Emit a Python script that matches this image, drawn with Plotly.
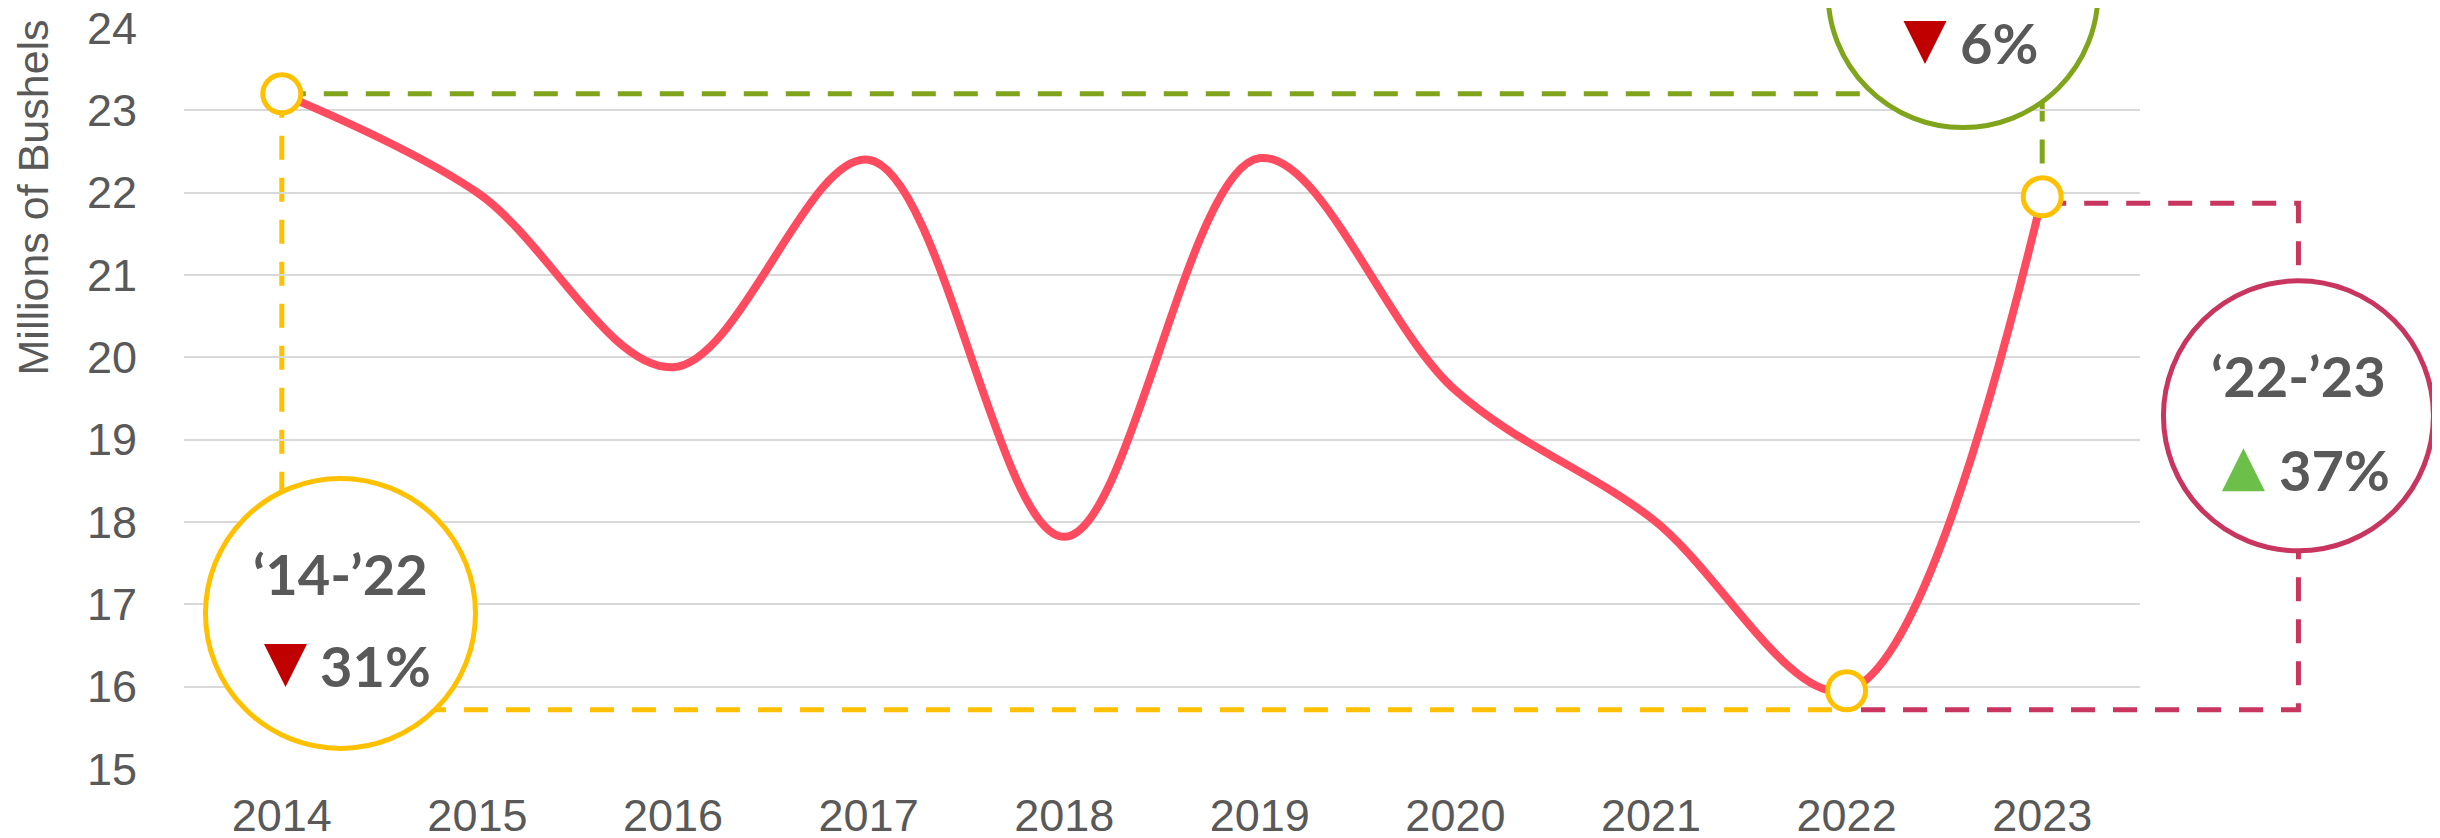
import plotly.graph_objects as go

# data
years = [2014, 2015, 2016, 2017, 2018, 2019, 2020, 2021, 2022, 2023]
bushels = [23.2, 22.0, 19.88, 22.4, 17.82, 22.42, 19.6, 18.05, 15.95, 21.95]
y_ticks = [15, 16, 17, 18, 19, 20, 21, 22, 23, 24]
marked_years = [2014, 2022, 2023]

# bracket levels / callouts
bracket_low = 15.72
bracket_mid = 21.87
bracket_right = 2024.31

X_RANGE = [2013.5, 2023.5]
Y_RANGE = [15, 24]

RED = 'rgb(255, 75, 95)'
YELLOW = '#FFC000'
GREEN = '#80A41C'
PINK = '#C8365F'
GREY = '#595959'


def xp(year):
    return (year - X_RANGE[0]) / (X_RANGE[1] - X_RANGE[0])


def yp(val):
    return (val - Y_RANGE[0]) / (Y_RANGE[1] - Y_RANGE[0])


def val(year):
    return bushels[years.index(year)]


fig = go.Figure()

# PRODUCTION LINE
fig.add_trace(
    go.Scatter(
        x=years,
        y=bushels,
        mode='lines',
        line=dict(color=RED, width=8, shape='spline', smoothing=1),
        showlegend=False,
        hoverinfo='skip',
    )
)

# MARKED POINTS
fig.add_trace(
    go.Scatter(
        x=marked_years,
        y=[val(y) for y in marked_years],
        mode='markers',
        marker=dict(size=38, color='white', line=dict(color=YELLOW, width=5)),
        showlegend=False,
        hoverinfo='skip',
    )
)

dash = '24px,18px'
shapes = []

# green: 2014 level across to 2023, down to 2023 point
shapes.append(dict(
    type='path', xref='paper', yref='y', layer='below',
    path=f'M {xp(2014)} {val(2014)} L {xp(2023)} {val(2014)} L {xp(2023)} {val(2023)}',
    line=dict(color=GREEN, width=5, dash=dash),
))
# yellow: 2014 down to the low bracket, across to 2022
shapes.append(dict(
    type='path', xref='paper', yref='y', layer='below',
    path=f'M {xp(2014)} {val(2014)} L {xp(2014)} {bracket_low} L {xp(2022)} {bracket_low}',
    line=dict(color=YELLOW, width=5, dash=dash),
))
# pink: 2023 out to the right, down, back to 2022
shapes.append(dict(
    type='path', xref='paper', yref='y', layer='below',
    path=(f'M {xp(2023)} {bracket_mid} L {xp(bracket_right)} {bracket_mid} '
          f'L {xp(bracket_right)} {bracket_low} L {xp(2022)} {bracket_low}'),
    line=dict(color=PINK, width=5, dash=dash),
))

# callouts: (center year, center value, colour, label, pct, down?, pct x-shift, tri x-shift, y offset)
# the green one's label sits above the top edge of the picture, as in the reference
callouts = [
    (2014.30, 16.89, YELLOW, '\u201814-\u201922', '31%', True, -22, -55, -52),
    (2024.31, 19.29, PINK, '\u201822-\u201923', '37%', False, -21, -55, -54),
    (2022.595, 24.43, GREEN, None, '6%', True, -5, -38, -50),
]

R = 135
annotations = []
for cx, cy, col, label, pct, down, pct_dx, tri_dx, dy in callouts:
    shapes.append(dict(
        type='circle', xref='paper', yref='paper', layer='above',
        xsizemode='pixel', ysizemode='pixel',
        xanchor=xp(cx), yanchor=yp(cy),
        x0=-R, x1=R, y0=-R, y1=R,
        fillcolor='white', line=dict(color=col, width=5),
    ))
    h = 21.5
    if down:
        tri = f'M {tri_dx - h} {dy + h} L {tri_dx + h} {dy + h} L {tri_dx} {dy - h} Z'
        tcol = '#C00000'
    else:
        tri = f'M {tri_dx - h} {dy - h} L {tri_dx + h} {dy - h} L {tri_dx} {dy + h} Z'
        tcol = '#6CC04A'
    shapes.append(dict(
        type='path', xref='paper', yref='paper', layer='above',
        xsizemode='pixel', ysizemode='pixel',
        xanchor=xp(cx), yanchor=yp(cy),
        path=tri, fillcolor=tcol, line=dict(width=0),
    ))
    if label:
        annotations.append(dict(
            x=xp(cx), y=yp(cy), xref='paper', yref='paper',
            xanchor='center', yanchor='middle',
            text=label, showarrow=False, yshift=40,
            font=dict(family='Lato', size=56, color=GREY, weight='bold'),
        ))
    annotations.append(dict(
        x=xp(cx), y=yp(cy), xref='paper', yref='paper',
        xanchor='left', yanchor='middle',
        text=pct, showarrow=False, xshift=pct_dx, yshift=dy,
        font=dict(family='Lato', size=56, color=GREY, weight='bold'),
    ))

# axis title
annotations.append(dict(
    x=-0.0773, y=0.771, xref='paper', yref='paper',
    xanchor='center', yanchor='middle',
    text='Millions of Bushels', textangle=-90, showarrow=False,
    font=dict(family='Liberation Sans, Arial', size=43, color=GREY),
))

fig.update_layout(
    width=2440,
    height=838,
    margin=dict(l=176, r=308, t=20, b=77),
    paper_bgcolor='white',
    plot_bgcolor='rgba(0,0,0,0)',
    font=dict(family='Liberation Sans, Arial', size=45, color=GREY),
    xaxis=dict(
        range=X_RANGE,
        tickvals=years,
        ticktext=[str(y) for y in years],
        showgrid=False,
        zeroline=False,
        showline=False,
        ticks='',
        ticklabelstandoff=16,
        tickfont=dict(size=45, color=GREY),
        automargin=False,
        fixedrange=True,
    ),
    yaxis=dict(
        range=Y_RANGE,
        tickvals=y_ticks,
        showgrid=True,
        gridcolor='#D9D9D9',
        gridwidth=2,
        zeroline=False,
        showline=False,
        ticks='',
        ticklabelstandoff=46,
        ticklabeloverflow='allow',
        tickfont=dict(size=45, color=GREY),
        automargin=False,
        fixedrange=True,
    ),
    shapes=shapes,
    annotations=annotations,
    showlegend=False,
)

fig.write_html('out.html')
